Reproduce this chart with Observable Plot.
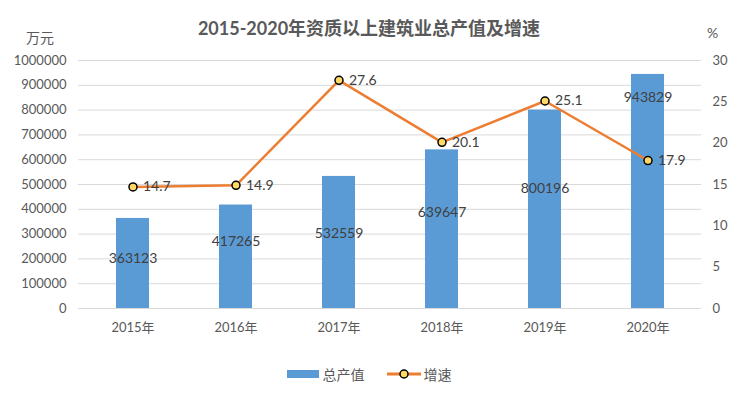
<!DOCTYPE html>
<html><head><meta charset="utf-8">
<script src="https://cdn.jsdelivr.net/npm/d3@7"></script>
<script src="https://cdn.jsdelivr.net/npm/@observablehq/plot@0.6"></script>
<style>
body{margin:0;background:#fff;font-family:Lato,"Noto Sans CJK SC",sans-serif;}
#wrap{position:relative;width:738px;height:418px;overflow:hidden;}
#title{position:absolute;top:14px;left:0;width:738px;text-align:center;font-size:18px;font-weight:bold;color:#595959;font-family:Lato,"Noto Sans CJK SC",sans-serif;}
.unit{position:absolute;font-size:14px;color:#595959;}
#legend{position:absolute;top:364px;left:0;width:738px;display:flex;justify-content:center;align-items:center;font-size:14px;color:#595959;}
#legend span{display:inline-flex;align-items:center;}
</style></head>
<body><div id="wrap">
<div id="title">2015-2020年资质以上建筑业总产值及增速</div>
<div class="unit" style="top:27px;left:26px;">万元</div>
<div class="unit" style="top:24px;left:707px;">%</div>
<div id="chart"></div>
<div id="legend">
<span><svg width="32" height="10"><rect x="0" y="1" width="32" height="8" fill="#5B9BD5"/></svg><span style="margin-left:4px;margin-right:22px">总产值</span></span>
<span><svg width="34" height="12"><line x1="0" y1="6" x2="34" y2="6" stroke="#ED7D31" stroke-width="3"/><circle cx="17" cy="6" r="4" fill="#FFD966" stroke="#000" stroke-width="1.5"/></svg><span style="margin-left:3px">增速</span></span>
</div>
</div>
<script>
const years = ["2015年","2016年","2017年","2018年","2019年","2020年"];
const output = [363123, 417265, 532559, 639647, 800196, 943829];
const growth = [14.7, 14.9, 27.6, 20.1, 25.1, 17.9];
const leftTicks = [0,100000,200000,300000,400000,500000,600000,700000,800000,900000,1000000];
const rightTicks = [0,5,10,15,20,25,30];

const yMax = 1000000, rMax = 30;
const toY = v => v / rMax * yMax;
const data = years.map((y, i) => ({year: y, output: output[i], growth: growth[i], gy: toY(growth[i])}));
// label vertical offsets (styling, pixels)
const barLabelDy = [40, 36, 57, 63, 78, 23];

const font = 'Lato,"Noto Sans CJK SC",sans-serif';
const chart = Plot.plot({
  width: 738, height: 345,
  marginTop: 60, marginBottom: 37, marginLeft: 78, marginRight: 37,
  style: {fontFamily: font, fontSize: "13px", color: "#595959", background: "transparent"},
  x: {domain: years, paddingInner: 0.68, paddingOuter: 0.34, align: 0.5, label: null},
  y: {domain: [0, yMax], label: null},
  marks: [
    Plot.gridY(leftTicks, {stroke: "#d9d9d9", strokeOpacity: 1, strokeWidth: 1}),
    Plot.axisY(leftTicks, {anchor: "left", tickSize: 0, tickPadding: 12, tickFormat: d => String(d), fontSize: 13, fill: "#595959", label: null}),
    Plot.axisY(rightTicks.map(toY), {anchor: "right", tickSize: 0, tickPadding: 11, tickFormat: d => String(Math.round(d / yMax * rMax)), fontSize: 13, fill: "#595959", label: null}),
    Plot.axisX({tickSize: 0, tickPadding: 14, fontSize: 13, fill: "#595959", label: null}),
    Plot.barY(data, {x: "year", y: "output", fill: "#5B9BD5"}),
    Plot.ruleY([0], {stroke: "#d9d9d9"}),
    ...data.map((d, i) => Plot.text([d], {x: "year", y: "output", text: d => String(d.output), dy: barLabelDy[i], fill: "#404040", fontSize: 14})),
    Plot.line(data, {x: "year", y: "gy", stroke: "#ED7D31", strokeWidth: 2.5}),
    Plot.dot(data, {x: "year", y: "gy", r: 4, fill: "#FFD966", stroke: "#000", strokeWidth: 1.5}),
    Plot.text(data, {x: "year", y: "gy", text: d => d.growth.toFixed(1), dx: 10, textAnchor: "start", fill: "#404040", fontSize: 14})
  ]
});
document.getElementById("chart").appendChild(chart);
</script>
</body></html>
